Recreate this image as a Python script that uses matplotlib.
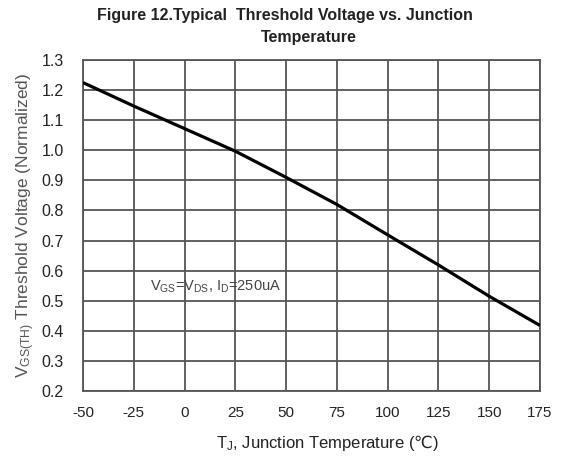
import matplotlib
matplotlib.use("Agg")
import matplotlib.pyplot as plt

plt.rcParams['font.family'] = ['Liberation Sans', 'DejaVu Sans']
plt.rcParams['mathtext.fontset'] = 'custom'
plt.rcParams['mathtext.rm'] = 'Liberation Sans'
plt.rcParams['mathtext.it'] = 'Liberation Sans'
plt.rcParams['mathtext.sf'] = 'DejaVu Sans'

# Junction temperature (°C) and normalized threshold voltage
temperature = [-50, -25, 0, 25, 50, 75, 100, 125, 150, 175]
vth_norm = [1.225, 1.147, 1.072, 0.997, 0.910, 0.820, 0.719, 0.619, 0.515, 0.418]

x_ticks = [-50, -25, 0, 25, 50, 75, 100, 125, 150, 175]
y_ticks = [0.2, 0.3, 0.4, 0.5, 0.6, 0.7, 0.8, 0.9, 1.0, 1.1, 1.2, 1.3]

fig = plt.figure(figsize=(5.63, 4.57), dpi=100)
ax = fig.add_axes([0.1474, 0.1444, 0.8116, 0.7243])

ax.plot(temperature, vth_norm, color='black', lw=2.3, solid_capstyle='butt',
        solid_joinstyle='round', zorder=3)

ax.set_xlim(-50, 175)
ax.set_ylim(0.2, 1.3)
ax.set_xticks(x_ticks)
ax.set_yticks(y_ticks)
ax.set_xticklabels([str(t) for t in x_ticks])
ax.set_yticklabels([f"{v:.1f}" for v in y_ticks])
ax.grid(True, color='#555555', lw=1.3)
ax.set_axisbelow(True)
for s in ax.spines.values():
    s.set_color('#555555')
    s.set_linewidth(1.3)
ax.tick_params(length=0, labelcolor='#222222')
ax.tick_params(axis='x', labelsize=11, pad=11)
ax.tick_params(axis='y', labelsize=11.5, pad=14)

ax.text(-17, 0.547, r'V$_{\mathregular{GS}}$=V$_{\mathregular{DS}}$, I$_{\mathregular{D}}$=250uA',
        fontsize=10.5, color='#444444', va='center', ha='left')

ax.set_xlabel(r'T$_{\mathregular{J}}$, Junction Temperature ($\mathsf{℃}$)', fontsize=12,
              color='#222222', labelpad=9)
ax.xaxis.label.set_x(0.535)
ax.set_ylabel(r'V$_{\mathregular{GS(TH)}}$ Threshold Voltage (Normalized)', fontsize=12.5,
              color='#555555', labelpad=3)

fig.text(0.506, 0.965, 'Figure 12.Typical  Threshold Voltage vs. Junction',
         ha='center', va='center', fontsize=11.5, fontweight='bold', color='#222222')
fig.text(0.548, 0.918, 'Temperature', ha='center', va='center', fontsize=11.5,
         fontweight='bold', color='#222222')

fig.savefig('out.png', dpi=100)
